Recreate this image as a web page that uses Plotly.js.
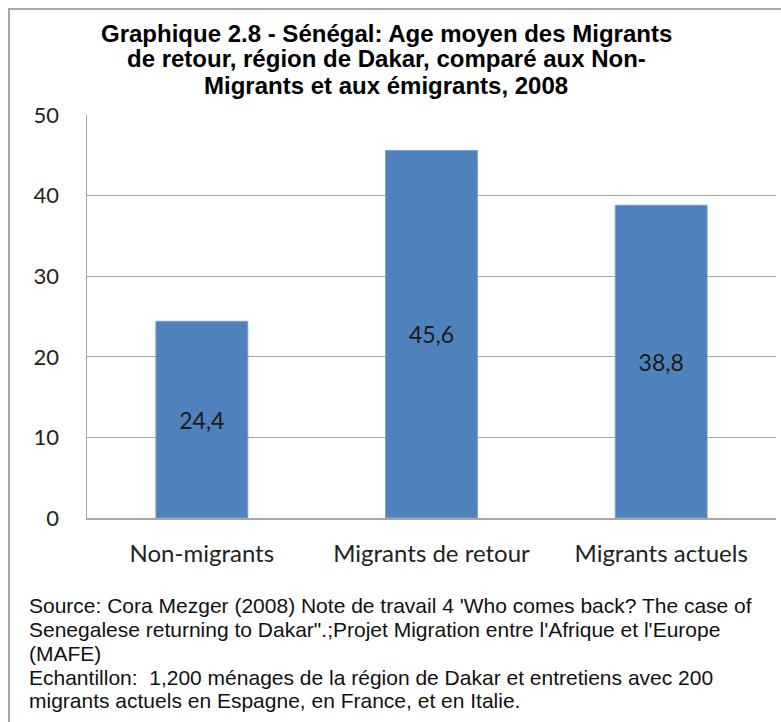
<!DOCTYPE html>
<html>
<head>
<meta charset="utf-8">
<script src="https://cdn.plot.ly/plotly-3.0.1.min.js"></script>
<style>
html,body{margin:0;padding:0;background:#fff;}
#wrap{position:relative;width:781px;height:722px;}
#chart{position:absolute;left:0;top:0;width:781px;height:722px;}
#frame{position:absolute;left:8px;top:8px;width:790px;height:730px;border-left:2px solid #a6a6a6;border-top:2px solid #a6a6a6;pointer-events:none;}
</style>
</head>
<body>
<div id="wrap"><div id="chart"></div><div id="frame"></div></div>
<script>
const categories = ["Non-migrants", "Migrants de retour", "Migrants actuels"];
const ages = [24.4, 45.6, 38.8];
const yTicks = [0, 10, 20, 30, 40, 50];
const titleLines = [
  "Graphique 2.8 - Sénégal: Age moyen des Migrants",
  "de retour, région de Dakar, comparé aux Non-",
  "Migrants et aux émigrants, 2008"
];
const footerLines = [
  "Source: Cora Mezger (2008) Note de travail 4 'Who comes back? The case of",
  "Senegalese returning to Dakar\".;Projet Migration entre l'Afrique et l'Europe",
  "(MAFE)",
  "Echantillon:  1,200 ménages de la région de Dakar et entretiens avec 200",
  "migrants actuels en Espagne, en France, et en Italie."
];

const trace = {
  type: "bar",
  x: categories,
  y: ages,
  marker: {color: "#4f81bd", line: {color: "#7aa0d0", width: 1}},
  texttemplate: "%{y:.1f}",
  textposition: "inside",
  insidetextanchor: "middle",
  textangle: 0,
  textfont: {family: "Lato, 'Open Sans', sans-serif", size: 23, color: "#1a1a1a"},
  hoverinfo: "none"
};

const annotations = [];
const titleShifts = [82, 57, 30];
titleLines.forEach((t, i) => annotations.push({
  text: "<b>" + t + "</b>", xref: "paper", yref: "paper", x: 0.434, y: 1, yshift: titleShifts[i],
  xanchor: "center", yanchor: "middle", showarrow: false,
  font: {family: "'Liberation Sans', Arial, sans-serif", size: 24, color: "#000"}
}));
const footerShifts = [-87, -111, -135, -159, -182];
footerLines.forEach((t, i) => annotations.push({
  text: t, xref: "paper", yref: "paper", x: 0, xshift: -60, y: 0, yshift: footerShifts[i],
  xanchor: "left", yanchor: "middle", showarrow: false, align: "left",
  font: {family: "'Liberation Sans', Arial, sans-serif", size: 21, color: "#111"}
}));

const layout = {
  width: 781, height: 722,
  margin: {l: 87, r: 5, t: 115, b: 204},
  paper_bgcolor: "#fff", plot_bgcolor: "#fff",
  separators: ", ",
  bargap: 0.6,
  showlegend: false,
  font: {family: "Lato, 'Open Sans', sans-serif", color: "#222"},
  xaxis: {
    type: "category",
    showline: true, linecolor: "#a6a6a6", linewidth: 1.5,
    ticks: "", ticklabelstandoff: 14,
    tickfont: {size: 24, color: "#222"},
    showgrid: false, zeroline: false
  },
  yaxis: {
    range: [0, 50], tickvals: yTicks, ticktext: yTicks.map(String),
    showline: true, linecolor: "#a6a6a6", linewidth: 1.5,
    gridcolor: "#a6a6a6", gridwidth: 1.2,
    zeroline: false, ticks: "", ticklabelstandoff: 22,
    tickfont: {size: 22, color: "#222"}
  },
  annotations: annotations
};

Plotly.newPlot("chart", [trace], layout, {displayModeBar: false, staticPlot: true});
</script>
</body>
</html>
